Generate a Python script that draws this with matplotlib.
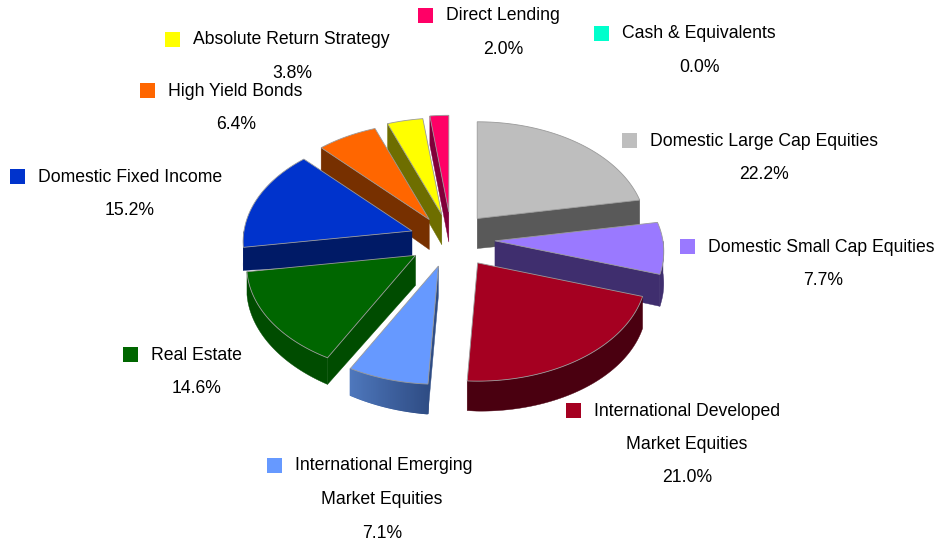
import numpy as np
import matplotlib
matplotlib.use("Agg")
import matplotlib.pyplot as plt
from matplotlib.colors import to_rgb
from matplotlib.patches import Polygon, Rectangle

plt.rcParams["font.family"] = ["Liberation Sans", "DejaVu Sans"]

# data, clockwise from 12 o'clock
names = [
    "Domestic Large Cap Equities",
    "Domestic Small Cap Equities",
    "International Developed\nMarket Equities",
    "International Emerging\nMarket Equities",
    "Real Estate",
    "Domestic Fixed Income",
    "High Yield Bonds",
    "Absolute Return Strategy",
    "Direct Lending",
    "Cash & Equivalents",
]
values = [22.2, 7.7, 21.0, 7.1, 14.6, 15.2, 6.4, 3.8, 2.0, 0.0]

# styles
top_colors = ["#BEBEBE", "#9A79FF", "#A50021", "#6699FF", "#006600",
              "#0033CC", "#FF6600", "#FFFF00", "#FF0066", "#00FFCC"]
side_colors = ["#595959", "#3F2E6E", "#4A0010", "#2F4D85", "#004C00",
               "#001A66", "#773000", "#6E6E00", "#80003A", "#007F66"]
# colour the outer wall fades to at its far (left) end
side_fade = {3: "#4E77BC"}
explode = [0.28, 0.28, 0.29, 0.25, 0.25, 0.22, 0.23, 0.25, 0.30, 0.0]
nudge_x = [0, 1, 3, 3, 3, 0, 3, 5, 5, 0]
nudge_y = [2, 1, 1, 4, 3, 0, 1, 1, 4, 0]

# legend layout, pixels
key_x = [622, 680, 566, 267, 123, 10, 140, 165, 418, 594]
key_y = [140, 246, 410, 465, 354, 176, 90, 39, 15, 33]
pct_x = [764, 823, 687, 382, 197, 130, 236, 292, 503, 699]

CX, CY = 447, 238
RX, RY = 168, 107.5
PERSP_X, PERSP_Y = 0.1, 0.1
LINE_H = 33.5
FONT = 12.7


def disc(theta, off_x, off_y):
    u, v = np.sin(theta), -np.cos(theta)
    return (off_x + RX * u * (1 + PERSP_X * v),
            off_y + RY * v * (1 + PERSP_Y * v))


def depth(theta):
    u = np.sin(theta)
    return 30 + np.where(u < 0, 7 * u, 2 * u)


def draw_poly(pts, color, z, lw=0.3):
    ax.add_patch(Polygon(pts, closed=True, fc=color, ec=color, lw=lw, zorder=z))


fig = plt.figure(figsize=(9.4, 5.44), dpi=100)
ax = fig.add_axes([0, 0, 1, 1])
ax.set_xlim(0, 940)
ax.set_ylim(544, 0)
ax.axis("off")

edges = np.cumsum([0] + values) / sum(values) * 2 * np.pi
slices = []
for i in range(len(values)):
    if values[i] <= 0:
        continue
    mid = (edges[i] + edges[i + 1]) / 2
    off_x = CX + explode[i] * RX * np.sin(mid) + nudge_x[i]
    off_y = CY - explode[i] * 100 * np.cos(mid) + nudge_y[i]
    slices.append((off_y, i, off_x))

# back to front
for off_y, i, off_x in sorted(slices):
    z = 30 + 100 * off_y / 544
    th = np.linspace(edges[i], edges[i + 1], 80)
    x, y = disc(th, off_x, off_y)
    d = depth(th)

    # only the cut walls that face the viewer
    if np.sin(th[0]) < 0:
        draw_poly([(off_x, off_y), (x[0], y[0]), (x[0], y[0] + d[0]), (off_x, off_y + 30)], side_colors[i], z)
    if np.sin(th[-1]) > 0:
        draw_poly([(off_x, off_y), (x[-1], y[-1]), (x[-1], y[-1] + d[-1]), (off_x, off_y + 30)], side_colors[i], z)

    # outer wall, front half only
    front = np.cos(th) < 0
    if front.sum() > 1:
        fx, fy, fd = x[front], y[front], d[front]
        if i in side_fade:
            near, far = to_rgb(side_colors[i]), to_rgb(side_fade[i])
            n = len(fx) - 1
            for k in range(n):
                t = k / max(n - 1, 1)
                col = tuple((1 - t) * a + t * b for a, b in zip(near, far))
                draw_poly([(fx[k], fy[k]), (fx[k + 1], fy[k + 1]),
                           (fx[k + 1], fy[k + 1] + fd[k + 1]), (fx[k], fy[k] + fd[k])], col, z, lw=1.0)
        else:
            wall = list(zip(fx, fy)) + list(zip(fx, fy + fd))[::-1]
            draw_poly(wall, side_colors[i], z)

    pts = [(off_x, off_y)] + list(zip(x, y))
    ax.add_patch(Polygon(pts, closed=True, fc=top_colors[i], ec="#9A9A9A", lw=0.6, zorder=z + 0.1))

for i, name in enumerate(names):
    ax.add_patch(Rectangle((key_x[i], key_y[i] - 7.5), 15, 15, fc=top_colors[i], ec="none", zorder=200))
    lines = name.split("\n")
    ax.text(key_x[i] + 28, key_y[i] + 1, lines[0], fontsize=FONT, color="black",
            ha="left", va="center", zorder=200)
    row = 1
    for extra in lines[1:]:
        ax.text(pct_x[i], key_y[i] + 1 + row * LINE_H, extra, fontsize=FONT, color="black",
                ha="center", va="center", zorder=200)
        row += 1
    ax.text(pct_x[i], key_y[i] + 1 + row * LINE_H, f"{values[i]:.1f}%", fontsize=FONT, color="black",
            ha="center", va="center", zorder=200)

fig.savefig("out.png", dpi=100)
